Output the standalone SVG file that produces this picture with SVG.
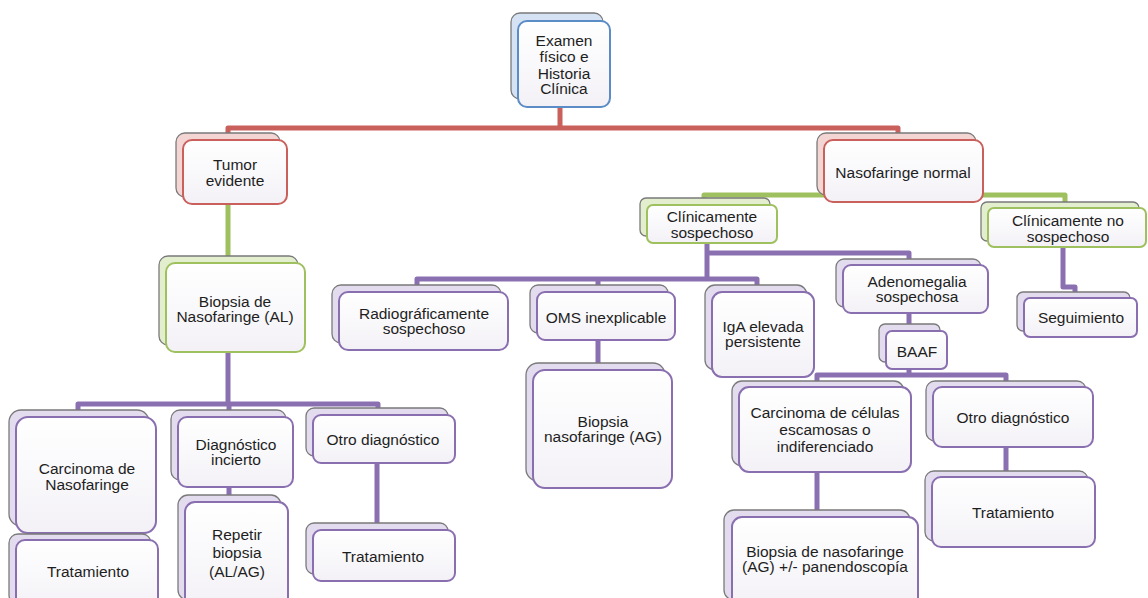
<svg xmlns="http://www.w3.org/2000/svg" width="1148" height="598" viewBox="0 0 1148 598">
<defs>
<linearGradient id="gf" x1="0" y1="0" x2="0" y2="1">
<stop offset="0" stop-color="#ffffff"/>
<stop offset="1" stop-color="#f3f1f6"/>
</linearGradient>
<style>
.bk{stroke:#7a7a7a;stroke-width:1.3}
.fr{fill:url(#gf);stroke-width:2}
.p .bk{fill:#e3dbee}.p .fr{stroke:#8a6fb0}
.r .bk{fill:#f3d5d4}.r .fr{stroke:#c9605c}
.g .bk{fill:#e2eecd}.g .fr{stroke:#9fc05e}
.b .bk{fill:#d4e2f3}.b .fr{stroke:#5b8cc6}
text{font-family:"Liberation Sans",Arial,sans-serif;font-size:15.5px;fill:#1e1e1e;text-anchor:middle}
.c{fill:none;stroke-width:5;stroke-linejoin:round}
.cr{stroke:#c9605c}.cg{stroke:#9fc05e}.cp{stroke:#8a70b1}
</style>
</defs>
<rect width="1148" height="598" fill="#ffffff"/>
<g id="connectors">
<path class="c cr" d="M560 107 V128 M228 136 V128 H898 V136"/>
<path class="c cg" d="M228 204 V260 M704 201 V195 H1065 V205"/>
<path class="c cp" d="M228 352 V404 M78 412 V404 H378 V410 M229 404 V412 M229 487 V498 M80 530 V537 M377 463 V526"/>
<path class="c cp" d="M707 243 V279 M417 288 V279 H757 V288 M598 279 V288 M707 253 H909 V262 M598 340 V366 M909 313 V328 M909 369 V375 M817 384 V375 H1006 V384 M817 472 V513 M1006 447 V474 M1063 247 V287 H1075 V294"/>
</g>
<g id="n_root" class="b"><rect class="bk" x="511" y="13" width="92" height="86" rx="9"/><rect class="fr" x="518" y="21" width="92" height="86" rx="9"/><text x="564" y="46">Examen</text><text x="564" y="62">físico e</text><text x="564" y="79">Historia</text><text x="564" y="94">Clínica</text></g>
<g id="n_tumor" class="r"><rect class="bk" x="176" y="133" width="104" height="64" rx="9"/><rect class="fr" x="183" y="140" width="104" height="64" rx="9"/><text x="235" y="170">Tumor</text><text x="235" y="186">evidente</text></g>
<g id="n_nasonormal" class="r"><rect class="bk" x="817" y="133" width="159" height="62" rx="9"/><rect class="fr" x="824" y="140" width="159" height="62" rx="9"/><text x="903" y="178">Nasofaringe normal</text></g>
<g id="n_biopsiaAL" class="g"><rect class="bk" x="159" y="256" width="139" height="89" rx="9"/><rect class="fr" x="166" y="263" width="139" height="89" rx="9"/><text x="235" y="307">Biopsia de</text><text x="235" y="322">Nasofaringe (AL)</text></g>
<g id="n_clinsosp" class="g"><rect class="bk" x="640" y="198" width="130" height="38" rx="6"/><rect class="fr" x="647" y="205" width="130" height="38" rx="6"/><text x="712" y="222">Clínicamente</text><text x="712" y="238">sospechoso</text></g>
<g id="n_clinnososp" class="g"><rect class="bk" x="981" y="202" width="158" height="39" rx="6"/><rect class="fr" x="988" y="208" width="158" height="39" rx="6"/><text x="1068" y="226">Clínicamente no</text><text x="1068" y="242">sospechoso</text></g>
<g id="n_radio" class="p"><rect class="bk" x="332" y="285" width="169" height="58" rx="9"/><rect class="fr" x="339" y="292" width="169" height="58" rx="9"/><text x="424" y="319">Radiográficamente</text><text x="424" y="334">sospechoso</text></g>
<g id="n_oms" class="p"><rect class="bk" x="530" y="285" width="138" height="48" rx="8"/><rect class="fr" x="537" y="292" width="138" height="48" rx="8"/><text x="606" y="323">OMS inexplicable</text></g>
<g id="n_biopsiaAG" class="p"><rect class="bk" x="526" y="363" width="139" height="118" rx="12"/><rect class="fr" x="533" y="370" width="139" height="118" rx="12"/><text x="603" y="427">Biopsia</text><text x="603" y="442">nasofaringe (AG)</text></g>
<g id="n_iga" class="p"><rect class="bk" x="705" y="285" width="102" height="85" rx="10"/><rect class="fr" x="712" y="292" width="102" height="85" rx="10"/><text x="763" y="332">IgA elevada</text><text x="763" y="347">persistente</text></g>
<g id="n_adeno" class="p"><rect class="bk" x="836" y="259" width="145" height="48" rx="8"/><rect class="fr" x="843" y="265" width="145" height="48" rx="8"/><text x="917" y="287">Adenomegalia</text><text x="917" y="302">sospechosa</text></g>
<g id="n_baaf" class="p"><rect class="bk" x="879" y="324" width="61" height="38" rx="6"/><rect class="fr" x="886" y="331" width="61" height="38" rx="6"/><text x="917" y="357">BAAF</text></g>
<g id="n_carcesc" class="p"><rect class="bk" x="732" y="381" width="172" height="85" rx="10"/><rect class="fr" x="739" y="387" width="172" height="85" rx="10"/><text x="825" y="418">Carcinoma de células</text><text x="825" y="435">escamosas o</text><text x="825" y="452">indiferenciado</text></g>
<g id="n_otroR" class="p"><rect class="bk" x="926" y="381" width="160" height="60" rx="9"/><rect class="fr" x="933" y="387" width="160" height="60" rx="9"/><text x="1013" y="423">Otro diagnóstico</text></g>
<g id="n_tratR" class="p"><rect class="bk" x="925" y="471" width="163" height="70" rx="9"/><rect class="fr" x="932" y="477" width="163" height="70" rx="9"/><text x="1013" y="518">Tratamiento</text></g>
<g id="n_biopPan" class="p"><rect class="bk" x="724" y="510" width="186" height="90" rx="10"/><rect class="fr" x="732" y="517" width="186" height="90" rx="10"/><text x="825" y="557">Biopsia de nasofaringe</text><text x="825" y="572">(AG) +/- panendoscopía</text></g>
<g id="n_seguim" class="p"><rect class="bk" x="1017" y="292" width="113" height="39" rx="6"/><rect class="fr" x="1024" y="298" width="113" height="39" rx="6"/><text x="1081" y="323">Seguimiento</text></g>
<g id="n_carcnaso" class="p"><rect class="bk" x="9" y="410" width="140" height="116" rx="12"/><rect class="fr" x="16" y="417" width="140" height="116" rx="12"/><text x="87" y="474">Carcinoma de</text><text x="87" y="490">Nasofaringe</text></g>
<g id="n_tratL" class="p"><rect class="bk" x="9" y="534" width="142" height="70" rx="9"/><rect class="fr" x="16" y="540" width="142" height="70" rx="9"/><text x="88" y="577">Tratamiento</text></g>
<g id="n_diag" class="p"><rect class="bk" x="171" y="410" width="115" height="70" rx="9"/><rect class="fr" x="178" y="417" width="115" height="70" rx="9"/><text x="236" y="450">Diagnóstico</text><text x="236" y="465">incierto</text></g>
<g id="n_repetir" class="p"><rect class="bk" x="178" y="495" width="103" height="105" rx="10"/><rect class="fr" x="185" y="502" width="103" height="105" rx="10"/><text x="237" y="540">Repetir</text><text x="237" y="558">biopsia</text><text x="237" y="577">(AL/AG)</text></g>
<g id="n_otroL" class="p"><rect class="bk" x="306" y="408" width="142" height="48" rx="8"/><rect class="fr" x="313" y="415" width="142" height="48" rx="8"/><text x="383" y="445">Otro diagnóstico</text></g>
<g id="n_tratM" class="p"><rect class="bk" x="306" y="523" width="142" height="51" rx="8"/><rect class="fr" x="313" y="530" width="142" height="51" rx="8"/><text x="383" y="562">Tratamiento</text></g>
</svg>
